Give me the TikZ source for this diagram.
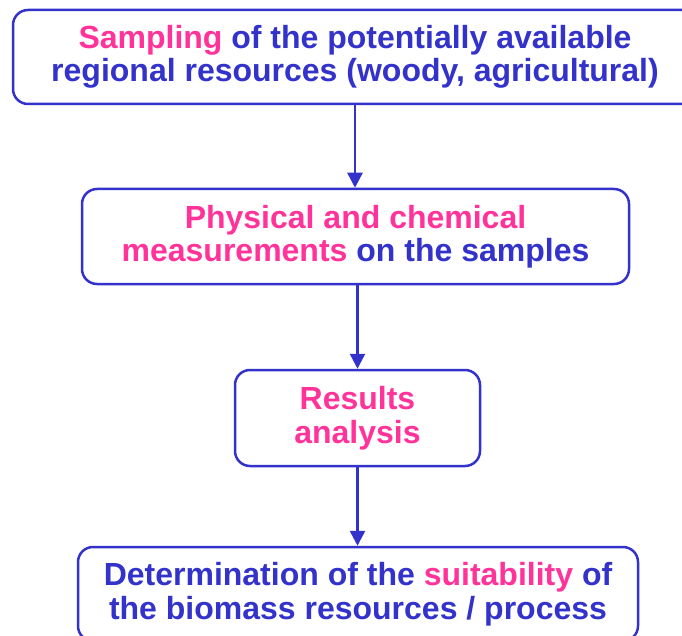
\documentclass[tikz,border=0pt]{standalone}
\usepackage{fontspec}
\setmainfont{Liberation Sans}
\usetikzlibrary{arrows.meta}
\definecolor{myblue}{HTML}{3333CC}
\definecolor{mypink}{HTML}{FF3399}
\newcommand\pk[1]{\textcolor{mypink}{#1}}
\begin{document}
\begin{tikzpicture}[x=1pt,y=-1pt,
  box/.style={draw=myblue, line width=2.5pt, rounded corners=15pt, fill=white, inner sep=0pt,
    align=center, font=\fontsize{32}{33.5}\selectfont\bfseries, text=myblue},
  arr/.style={draw=myblue, line width=2.5pt, -{Triangle[width=15pt,length=15pt]}}]
\useasboundingbox[fill=white] (0,0) rectangle (682,636);
\node[box, minimum width=684pt, minimum height=94pt] (s) at (355,57)
  {\pk{Sampling} of the potentially available\\regional resources (woody, agricultural)};
\node[box, minimum width=547pt, minimum height=95pt] (p) at (355.5,236.5)
  {\pk{Physical and chemical}\\\pk{measurements} on the samples};
\node[box, minimum width=245pt, minimum height=96pt] (r) at (357.5,418)
  {\pk{Results}\\\pk{analysis}};
\node[box, minimum width=560pt, minimum height=94pt] (d) at (358,594)
  {Determination of the \pk{suitability} of\\the biomass resources / process};
\draw[arr] (s.south) -- (s.south |- p.north);
\draw[arr] (r.north |- p.south) -- (r.north);
\draw[arr] (r.south) -- (r.south |- d.north);
\end{tikzpicture}
\end{document}
